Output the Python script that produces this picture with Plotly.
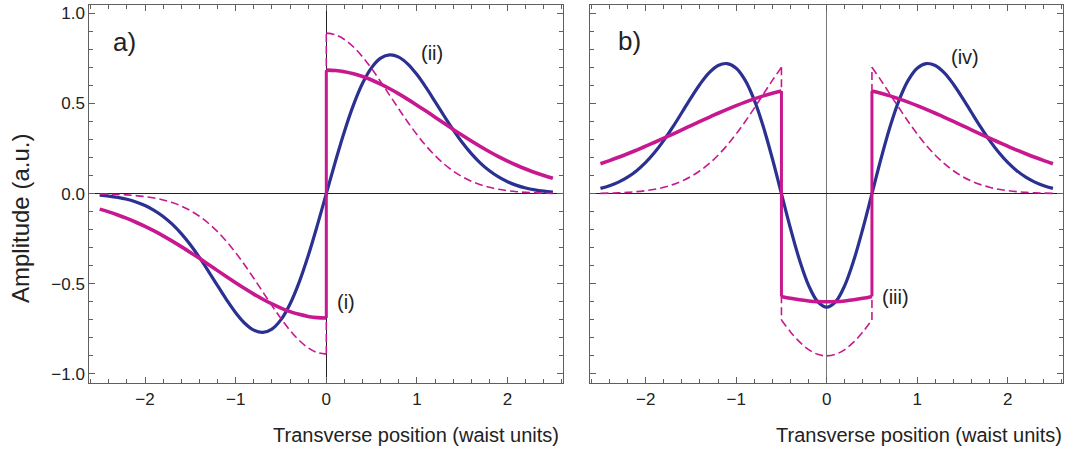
import plotly.graph_objects as go

# ---------------- data ----------------
X_FULL = [-2.5, -2.4, -2.3, -2.2, -2.1, -2.0, -1.9, -1.8, -1.7, -1.6, -1.5, -1.4, -1.3,
          -1.2, -1.1, -1.0, -0.9, -0.8, -0.7, -0.6, -0.5, -0.4, -0.3, -0.2, -0.1, 0.0,
          0.1, 0.2, 0.3, 0.4, 0.5, 0.6, 0.7, 0.8, 0.9, 1.0, 1.1, 1.2, 1.3, 1.4, 1.5,
          1.6, 1.7, 1.8, 1.9, 2.0, 2.1, 2.2, 2.3, 2.4, 2.5]
X_NEG = [-2.5, -2.4, -2.3, -2.2, -2.1, -2.0, -1.9, -1.8, -1.7, -1.6, -1.5, -1.4, -1.3,
         -1.2, -1.1, -1.0, -0.9, -0.8, -0.7, -0.6, -0.5, -0.4, -0.3, -0.2, -0.1, 0.0]
X_POS = [0.0, 0.1, 0.2, 0.3, 0.4, 0.5, 0.6, 0.7, 0.8, 0.9, 1.0, 1.1, 1.2, 1.3, 1.4, 1.5,
         1.6, 1.7, 1.8, 1.9, 2.0, 2.1, 2.2, 2.3, 2.4, 2.5]
X_OUT_L = [-2.5, -2.4, -2.3, -2.2, -2.1, -2.0, -1.9, -1.8, -1.7, -1.6, -1.5, -1.4, -1.3,
           -1.2, -1.1, -1.0, -0.9, -0.8, -0.7, -0.6, -0.5]
X_MID = [-0.5, -0.4, -0.3, -0.2, -0.1, 0.0, 0.1, 0.2, 0.3, 0.4, 0.5]
X_OUT_R = [0.5, 0.6, 0.7, 0.8, 0.9, 1.0, 1.1, 1.2, 1.3, 1.4, 1.5, 1.6, 1.7, 1.8, 1.9,
           2.0, 2.1, 2.2, 2.3, 2.4, 2.5]

# panel a) -- blue mode
BLUE_A = [-0.0087, -0.0136, -0.0208, -0.0312, -0.0458, -0.0658, -0.0923, -0.1265, -0.1696,
          -0.2220, -0.2838, -0.3540, -0.4306, -0.5103, -0.5888, -0.6603, -0.7187, -0.7572,
          -0.7698, -0.7514, -0.6990, -0.6118, -0.4922, -0.3449, -0.1777, 0.0,
          0.1777, 0.3449, 0.4922, 0.6118, 0.6990, 0.7514, 0.7698, 0.7572, 0.7187, 0.6603,
          0.5888, 0.5103, 0.4306, 0.3540, 0.2838, 0.2220, 0.1696, 0.1265, 0.0923, 0.0658,
          0.0458, 0.0312, 0.0208, 0.0136, 0.0087]
# panel a) -- solid magenta (two branches)
MAG_A_NEG = [-0.0859, -0.1012, -0.1183, -0.1374, -0.1587, -0.1819, -0.2071, -0.2343, -0.2633,
             -0.2939, -0.3259, -0.3590, -0.3928, -0.4270, -0.4610, -0.4944, -0.5267, -0.5574,
             -0.5860, -0.6120, -0.6348, -0.6542, -0.6696, -0.6809, -0.6877, -0.6900]
MAG_A_POS = [0.6850, 0.6827, 0.6760, 0.6648, 0.6495, 0.6302, 0.6076, 0.5818, 0.5534, 0.5229,
             0.4908, 0.4577, 0.4239, 0.3900, 0.3564, 0.3236, 0.2918, 0.2614, 0.2326, 0.2056,
             0.1806, 0.1575, 0.1364, 0.1175, 0.1004, 0.0853]
# panel a) -- dashed magenta (two branches)
DSH_A_NEG = [-0.0017, -0.0028, -0.0045, -0.0070, -0.0108, -0.0163, -0.0241, -0.0349, -0.0495,
             -0.0688, -0.0938, -0.1254, -0.1642, -0.2109, -0.2654, -0.3274, -0.3959, -0.4693,
             -0.5452, -0.6209, -0.6931, -0.7584, -0.8134, -0.8551, -0.8811, -0.8900]
DSH_A_POS = [0.8900, 0.8811, 0.8551, 0.8134, 0.7584, 0.6931, 0.6209, 0.5452, 0.4693, 0.3959,
             0.3274, 0.2654, 0.2109, 0.1642, 0.1254, 0.0938, 0.0688, 0.0495, 0.0349, 0.0241,
             0.0163, 0.0108, 0.0070, 0.0045, 0.0028, 0.0017]

# panel b) -- blue mode
BLUE_B = [0.0292, 0.0437, 0.0640, 0.0915, 0.1275, 0.1731, 0.2290, 0.2951, 0.3698, 0.4500,
          0.5312, 0.6070, 0.6696, 0.7105, 0.7214, 0.6953, 0.6278, 0.5182, 0.3705, 0.1934,
          0.0, -0.1933, -0.3685, -0.5085, -0.5988, -0.6300, -0.5988, -0.5085, -0.3685,
          -0.1933, 0.0, 0.1934, 0.3705, 0.5182, 0.6278, 0.6953, 0.7214, 0.7105, 0.6696,
          0.6070, 0.5312, 0.4500, 0.3698, 0.2951, 0.2290, 0.1731, 0.1275, 0.0915, 0.0640,
          0.0437, 0.0292]
# panel b) -- solid magenta (three branches)
MAG_B_L = [0.1654, 0.1830, 0.2016, 0.2212, 0.2417, 0.2630, 0.2850, 0.3076, 0.3306, 0.3539,
           0.3773, 0.4005, 0.4235, 0.4459, 0.4675, 0.4882, 0.5077, 0.5258, 0.5423, 0.5571,
           0.5699]
MAG_B_M = [-0.5699, -0.5805, -0.5890, -0.5951, -0.5988, -0.6000, -0.5988, -0.5951, -0.5890,
           -0.5805, -0.5699]
MAG_B_R = [0.5699, 0.5571, 0.5423, 0.5258, 0.5077, 0.4882, 0.4675, 0.4459, 0.4235, 0.4005,
           0.3773, 0.3539, 0.3306, 0.3076, 0.2850, 0.2630, 0.2417, 0.2212, 0.2016, 0.1830,
           0.1654]
# panel b) -- dashed magenta (three branches)
DSH_B_L = [0.0017, 0.0028, 0.0045, 0.0071, 0.0109, 0.0165, 0.0243, 0.0352, 0.0500, 0.0696,
           0.0949, 0.1268, 0.1661, 0.2132, 0.2684, 0.3311, 0.4004, 0.4746, 0.5514, 0.6279,
           0.7009]
DSH_B_M = [-0.7009, -0.7669, -0.8225, -0.8647, -0.8910, -0.9000, -0.8910, -0.8647, -0.8225,
           -0.7669, -0.7009]
DSH_B_R = [0.7009, 0.6279, 0.5514, 0.4746, 0.4004, 0.3311, 0.2684, 0.2132, 0.1661, 0.1268,
           0.0949, 0.0696, 0.0500, 0.0352, 0.0243, 0.0165, 0.0109, 0.0071, 0.0045, 0.0028,
           0.0017]

X_TICKS = [-2, -1, 0, 1, 2]
X_TICK_TEXT = ["\u22122", "\u22121", "0", "1", "2"]
Y_TICKS = [-1.0, -0.5, 0.0, 0.5, 1.0]
Y_TICK_TEXT = ["\u22121.0", "\u22120.5", "0.0", "0.5", "1.0"]

# ---------------- styling ----------------
BLUE = "#2b3190"
MAG = "#c8188f"
AX = "#606060"
FONT = "Liberation Sans, Arial, sans-serif"
DASH = "8px,4px"

fig = go.Figure()


def curve(xs, ys, xa, ya, color, width, dash=None, shape="spline"):
    fig.add_trace(go.Scatter(x=xs, y=ys, mode="lines", xaxis=xa, yaxis=ya,
                             line=dict(color=color, width=width, dash=dash, shape=shape),
                             hoverinfo="skip"))


# panel a
curve(X_FULL, BLUE_A, "x", "y", BLUE, 3.2)
curve(X_NEG, DSH_A_NEG, "x", "y", MAG, 1.6, DASH)
curve(X_POS, DSH_A_POS, "x", "y", MAG, 1.6, DASH)
curve([X_NEG[-1], X_POS[0]], [DSH_A_NEG[-1], DSH_A_POS[0]], "x", "y", MAG, 1.6, DASH, "linear")
curve(X_NEG, MAG_A_NEG, "x", "y", MAG, 3.6)
curve(X_POS, MAG_A_POS, "x", "y", MAG, 3.6)
curve([X_NEG[-1], X_POS[0]], [MAG_A_NEG[-1], MAG_A_POS[0]], "x", "y", MAG, 3.0, None, "linear")

# panel b
curve(X_FULL, BLUE_B, "x2", "y2", BLUE, 3.2)
curve(X_OUT_L, DSH_B_L, "x2", "y2", MAG, 1.6, DASH)
curve(X_MID, DSH_B_M, "x2", "y2", MAG, 1.6, DASH)
curve(X_OUT_R, DSH_B_R, "x2", "y2", MAG, 1.6, DASH)
curve([X_OUT_L[-1], X_MID[0]], [DSH_B_L[-1], DSH_B_M[0]], "x2", "y2", MAG, 1.6, DASH, "linear")
curve([X_MID[-1], X_OUT_R[0]], [DSH_B_M[-1], DSH_B_R[0]], "x2", "y2", MAG, 1.6, DASH, "linear")
curve(X_OUT_L, MAG_B_L, "x2", "y2", MAG, 3.6)
curve(X_MID, MAG_B_M, "x2", "y2", MAG, 3.6)
curve(X_OUT_R, MAG_B_R, "x2", "y2", MAG, 3.6)
curve([X_OUT_L[-1], X_MID[0]], [MAG_B_L[-1], MAG_B_M[0]], "x2", "y2", MAG, 3.0, None, "linear")
curve([X_MID[-1], X_OUT_R[0]], [MAG_B_M[-1], MAG_B_R[0]], "x2", "y2", MAG, 3.0, None, "linear")

common_x = dict(range=[-2.615, 2.615], tickvals=X_TICKS, ticktext=X_TICK_TEXT,
                ticks="inside", ticklen=6, tickwidth=1, tickcolor=AX,
                showline=True, linecolor=AX, linewidth=1, mirror="allticks",
                showgrid=False, zeroline=True, zerolinewidth=1,
                tickfont=dict(family=FONT, size=17, color="#222222"),
                minor=dict(dtick=0.2, tick0=0, ticks="inside", ticklen=4,
                           tickcolor=AX, showgrid=False))
common_y = dict(range=[-1.052, 1.048], tickvals=Y_TICKS, ticktext=Y_TICK_TEXT,
                ticks="inside", ticklen=6, tickwidth=1, tickcolor=AX,
                showline=True, linecolor=AX, linewidth=1, mirror="allticks",
                showgrid=False, zeroline=True, zerolinecolor="#222222", zerolinewidth=1,
                tickfont=dict(family=FONT, size=17, color="#222222"),
                minor=dict(dtick=0.1, tick0=0, ticks="inside", ticklen=4,
                           tickcolor=AX, showgrid=False))

fig.update_layout(
    width=1073, height=450,
    margin=dict(l=0, r=0, t=0, b=0),
    paper_bgcolor="white", plot_bgcolor="white",
    showlegend=False,
    xaxis=dict(domain=[0.0832, 0.5250], anchor="y", zerolinecolor="#222222", **common_x),
    yaxis=dict(domain=[0.1482, 0.9896], anchor="x", **common_y),
    xaxis2=dict(domain=[0.5499, 0.9910], anchor="y2", zerolinecolor="#777777", **common_x),
    yaxis2=dict(domain=[0.1482, 0.9896], anchor="x2", showticklabels=False,
                **common_y),
)

ann_font = dict(family=FONT, color="#222222")
annotations = [
    dict(text="a)", x=124 / 1073, y=1 - 42 / 450, font=dict(size=26, **ann_font)),
    dict(text="b)", x=629 / 1073, y=1 - 41 / 450, font=dict(size=26, **ann_font)),
    dict(text="(i)", x=346 / 1073, y=1 - 302 / 450, font=dict(size=20, **ann_font)),
    dict(text="(ii)", x=432 / 1073, y=1 - 53 / 450, font=dict(size=20, **ann_font)),
    dict(text="(iii)", x=895 / 1073, y=1 - 297 / 450, font=dict(size=20, **ann_font)),
    dict(text="(iv)", x=965 / 1073, y=1 - 57 / 450, font=dict(size=20, **ann_font)),
    dict(text="Transverse position (waist units)", x=561 / 1073, y=1 - 435 / 450,
         xanchor="right", font=dict(size=20, **ann_font)),
    dict(text="Transverse position (waist units)", x=1064 / 1073, y=1 - 435 / 450,
         xanchor="right", font=dict(size=20, **ann_font)),
    dict(text="Amplitude (a.u.)", x=20 / 1073, y=1 - 219 / 450, textangle=-90,
         font=dict(size=24, **ann_font)),
]
for a in annotations:
    a.setdefault("xanchor", "center")
    fig.add_annotation(xref="paper", yref="paper", showarrow=False, yanchor="middle", **a)

fig.write_html("out.html")
